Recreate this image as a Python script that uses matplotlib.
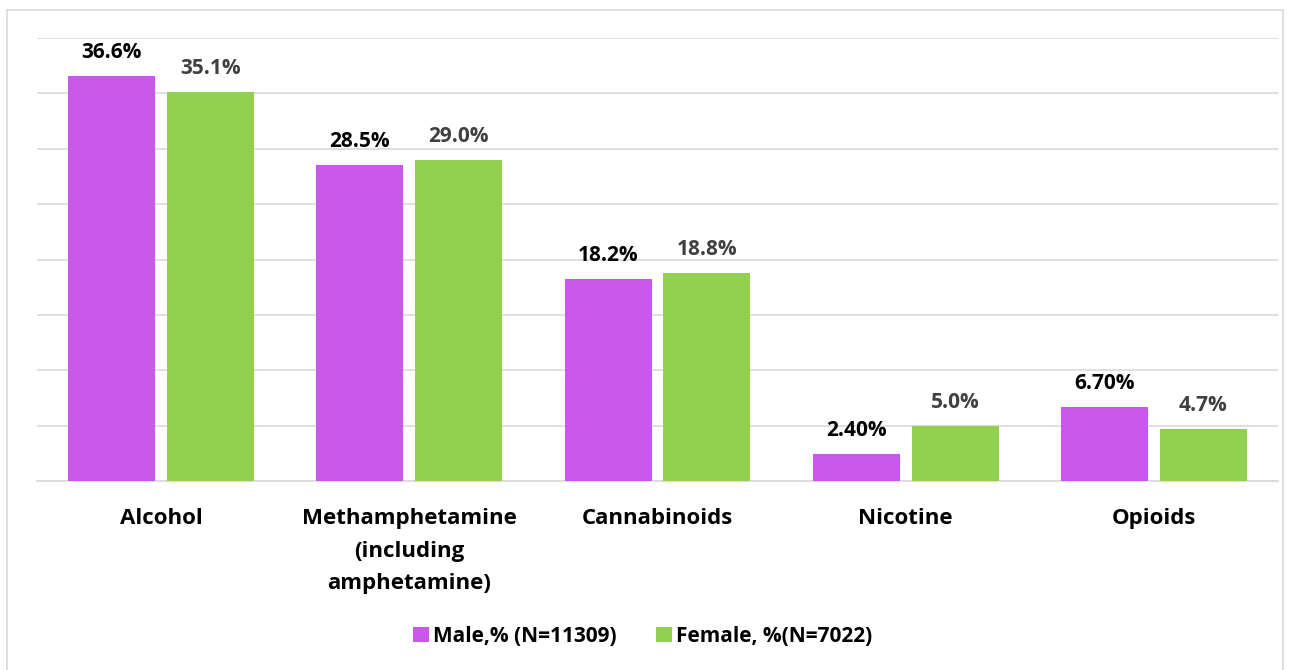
import matplotlib
matplotlib.use("Agg")
import matplotlib.pyplot as plt
from matplotlib.patches import Rectangle
import numpy as np

categories = ["Alcohol", "Methamphetamine\n(including\namphetamine)", "Cannabinoids", "Nicotine", "Opioids"]
male = [36.6, 28.5, 18.2, 2.40, 6.70]
female = [35.1, 29.0, 18.8, 5.0, 4.7]
male_labels = ["36.6%", "28.5%", "18.2%", "2.40%", "6.70%"]
female_labels = ["35.1%", "29.0%", "18.8%", "5.0%", "4.7%"]
series_names = ["Male,% (N=11309)", "Female, %(N=7022)"]

purple = "#C957EB"
green = "#92D050"
grid = "#D9D9D9"

plt.rcParams["font.family"] = ["Open Sans", "DejaVu Sans"]

fig = plt.figure(figsize=(12.93, 6.70), dpi=100)
fig.patch.set_facecolor("white")

# outer chart frame
fig.add_artist(Rectangle((7 / 1293, -0.05), 1283 / 1293 - 7 / 1293, 1 - 10 / 670 + 0.05,
                         transform=fig.transFigure, fill=False, edgecolor="#D9D9D9", lw=1.2))

ax = fig.add_axes([37 / 1293, 1 - 481 / 670, (1278 - 37) / 1293, (481 - 38) / 670])

x = np.arange(len(categories))
w = 0.35
gap = 0.048
off = (w + gap) / 2
b1 = ax.bar(x - off, male, w, color=purple, zorder=3)
b2 = ax.bar(x + off, female, w, color=green, zorder=3)

for bars, labels, col in ((b1, male_labels, "#000000"), (b2, female_labels, "#404040")):
    for rect, lab in zip(bars, labels):
        ax.annotate(lab, (rect.get_x() + rect.get_width() / 2, rect.get_height()),
                    xytext=(0, 13), textcoords="offset points",
                    ha="center", va="baseline", fontsize=15, fontweight="bold", color=col)

ax.set_xlim(-0.5, len(categories) - 0.5)
ax.set_ylim(0, 40)
ax.set_yticks(np.arange(0, 41, 5))
ax.yaxis.grid(True, color=grid, lw=1.2, zorder=0)
ax.tick_params(axis="y", left=False, labelleft=False)
ax.tick_params(axis="x", bottom=False, pad=16)
ax.set_xticks(x)
ax.set_xticklabels(categories, fontsize=16, fontweight="bold", linespacing=1.72)
for s in ["top", "right", "left"]:
    ax.spines[s].set_visible(False)
ax.spines["bottom"].set_color(grid)
ax.spines["bottom"].set_linewidth(1.2)

leg = fig.legend([b1, b2], series_names, loc="center", bbox_to_anchor=(0.497, 1 - 636 / 670),
                 ncol=2, frameon=False, handlelength=0.75, handleheight=0.75,
                 handletextpad=0.2, columnspacing=1.9,
                 prop={"family": ["Open Sans", "DejaVu Sans"], "weight": "bold", "size": 15})

fig.savefig("out.png", dpi=100, facecolor="white")
